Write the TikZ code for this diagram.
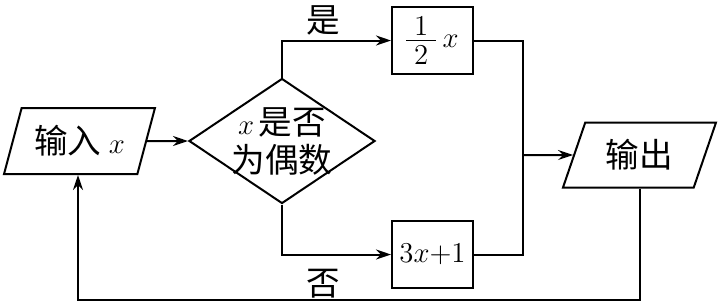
\documentclass[tikz,border=0pt]{standalone}
\usepackage{fontspec}
\newfontfamily\cjk[Scale=1.2]{Noto Sans CJK SC}
\usetikzlibrary{shapes.geometric,arrows.meta}
\tikzset{
  io/.style={draw, trapezium, trapezium left angle=66,
    trapezium right angle=114, trapezium stretches=true, inner sep=0pt},
  box/.style={draw, minimum width=40.5pt, minimum height=33.5pt,
    inner sep=0pt},
  test/.style={draw, diamond, aspect=1.49, minimum width=93pt,
    minimum height=62.5pt, inner sep=-4pt, align=center},
  tag/.style={inner sep=2pt}
}
\begin{document}
\begin{tikzpicture}[x=0.5pt, y=-0.5pt, line width=1pt,
    >={Stealth[length=7.5pt, width=5pt, inset=2.5pt]},
    font=\fontsize{14pt}{15.5pt}\selectfont]
  \useasboundingbox (0,0) rectangle (718,306);

  % Input and test
  \node[io, minimum width=75.5pt, minimum height=33pt] (in) at (79.5,141)
    {\cjk 输入\ $x$};
  \node[test] (even) at (282,141) {$x$\,\cjk 是否\\[3.5pt]\cjk 为偶数};
  \draw[->] (in) -- (even);

  % Two branches
  \node[box] (half) at (432.5,40.5)
    {$\vcenter{\offinterlineskip
        \hbox to 15pt{\hfil$1$\hfil}\kern2.5pt
        \hrule width 15pt height 0.4pt\kern2.5pt
        \hbox to 15pt{\hfil$2$\hfil}}\mkern4mu x$};
  \node[box] (odd) at (432.5,254.5) {$3x{+}1$};
  \draw[->] (even.north) |- node[tag, above, pos=0.69] {\cjk 是} (half);
  \draw[->] (even.south) |- node[tag, below=5pt, pos=0.69] {\cjk 否} (odd);

  % Output and loop back
  \node[io, minimum width=76.5pt, minimum height=32.5pt] (out)
    at (639.5,155) {\cjk 输出};
  \coordinate (join) at (523,155);
  \coordinate (back) at (78,300);
  \draw (half) -| (join);
  \draw (odd) -| (join);
  \draw[->] (join) -- (out);
  \draw[->] (out.south) |- (back) -- (back |- in.south);
\end{tikzpicture}
\end{document}
